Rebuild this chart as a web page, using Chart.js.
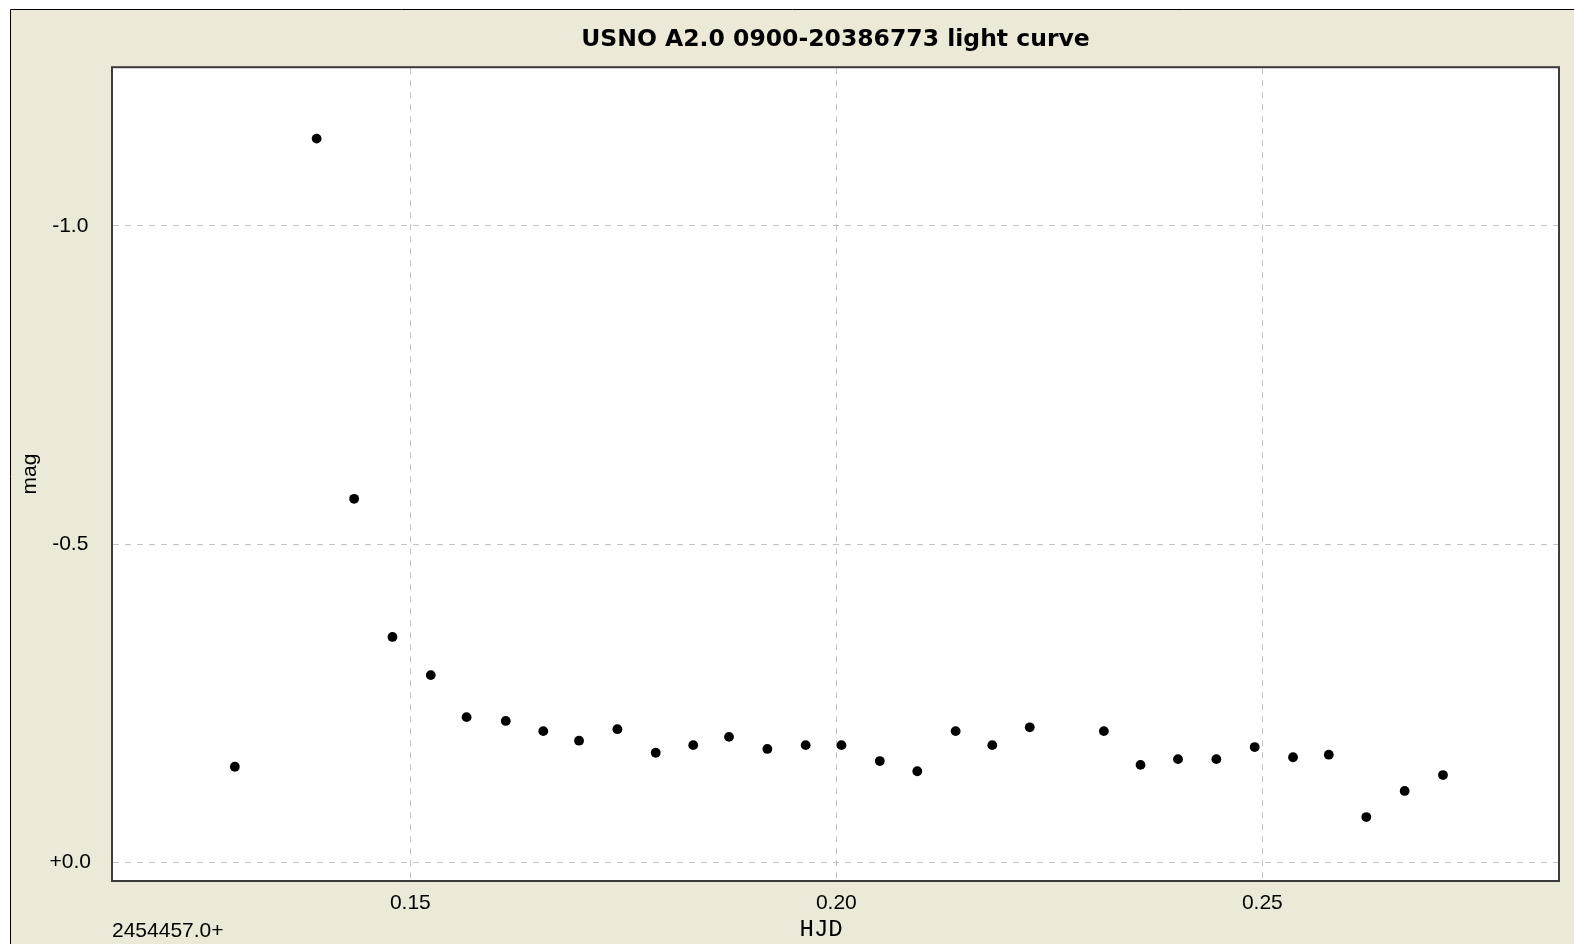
<!DOCTYPE html>
<html>
<head>
<meta charset="utf-8">
<title>USNO A2.0 0900-20386773 light curve</title>
<script src="https://cdn.jsdelivr.net/npm/chart.js"></script>
<style>
  html, body { margin: 0; padding: 0; background: #ffffff; overflow: hidden; }
  canvas { display: block; }
</style>
</head>
<body>
<canvas id="curva" width="1574" height="944"></canvas>
<script>
// HJD - 2454457.0 and magnitudes
var hjd = [0.1294, 0.1390, 0.1434, 0.1479, 0.1524, 0.1566, 0.1612, 0.1656, 0.1698, 0.1743,
           0.1788, 0.1832, 0.1874, 0.1919, 0.1964, 0.2006, 0.2051, 0.2095, 0.2140, 0.2183,
           0.2227, 0.2314, 0.2357, 0.2401, 0.2446, 0.2491, 0.2536, 0.2578, 0.2622, 0.2667,
           0.2712];
var mag = [-0.150, -1.137, -0.571, -0.354, -0.294, -0.228, -0.222, -0.206, -0.191, -0.209,
           -0.172, -0.184, -0.197, -0.178, -0.184, -0.184, -0.159, -0.143, -0.206, -0.184,
           -0.212, -0.206, -0.153, -0.162, -0.162, -0.181, -0.165, -0.169, -0.071, -0.112,
           -0.137];

var xTicks = [0.15, 0.20, 0.25];
var xTickLabels = ['0.15', '0.20', '0.25'];
var yTicks = [-1.0, -0.5, 0.0];
var yTickLabels = ['-1.0', '-0.5', '+0.0'];

var titulo = 'USNO A2.0 0900-20386773 light curve';
var baseJD = '2454457.0+';

var fonteTexto = 'Liberation Sans, Arial, sans-serif';

var pontos = hjd.map(function(x, i) {
    return { x: x, y: mag[i] };
});

// beige frame, white plot area, dark plot border, JD base label
var moldura = {
    id: 'moldura',
    beforeDraw: function(chart) {
        var ctx = chart.ctx;
        var a = chart.chartArea;
        ctx.save();
        ctx.fillStyle = '#ffffff';
        ctx.fillRect(0, 0, chart.width, chart.height);
        ctx.fillStyle = '#ece9d8';
        ctx.fillRect(10, 9, chart.width - 10, chart.height - 9);
        ctx.strokeStyle = '#000000';
        ctx.lineWidth = 1;
        ctx.beginPath();
        ctx.moveTo(10.5, chart.height);
        ctx.lineTo(10.5, 9.5);
        ctx.lineTo(chart.width, 9.5);
        ctx.stroke();
        ctx.fillStyle = '#ffffff';
        ctx.fillRect(a.left, a.top, a.right - a.left, a.bottom - a.top);
        ctx.restore();
    },
    beforeDatasetsDraw: function(chart) {
        var ctx = chart.ctx;
        var a = chart.chartArea;
        ctx.save();
        ctx.strokeStyle = '#3c3c3c';
        ctx.lineWidth = 2;
        ctx.strokeRect(a.left - 1, a.top - 1, a.right - a.left + 2, a.bottom - a.top + 2);
        ctx.fillStyle = '#000000';
        ctx.font = '21px ' + fonteTexto;
        ctx.textAlign = 'left';
        ctx.textBaseline = 'middle';
        ctx.fillText(baseJD, a.left - 1, 931);
        ctx.restore();
    }
};

var config = {
    type: 'scatter',
    data: {
        datasets: [{
            label: 'mag',
            data: pontos,
            backgroundColor: '#000000',
            borderColor: '#000000',
            borderWidth: 0,
            pointRadius: 4.9,
            pointHoverRadius: 4.9,
            showLine: false
        }]
    },
    options: {
        responsive: false,
        animation: false,
        devicePixelRatio: 1,
        layout: {
            padding: { left: 10, top: 9, right: 16, bottom: 0 }
        },
        plugins: {
            legend: { display: false },
            tooltip: { enabled: false },
            title: {
                display: true,
                text: titulo,
                fullSize: false,
                color: '#000000',
                font: { family: 'DejaVu Sans', size: 23.5, weight: 'bold', lineHeight: 1.2 },
                padding: { top: 17, bottom: 14 }
            }
        },
        scales: {
            x: {
                type: 'linear',
                position: 'bottom',
                min: 0.1151,
                max: 0.2847,
                afterFit: function(scale) { scale.height = 64; },
                afterBuildTicks: function(scale) {
                    scale.ticks = xTicks.map(function(v) { return { value: v }; });
                },
                ticks: {
                    padding: 11,
                    color: '#000000',
                    font: { family: fonteTexto, size: 21 },
                    maxRotation: 0,
                    callback: function(v) {
                        var i = xTicks.indexOf(v);
                        return i >= 0 ? xTickLabels[i] : '';
                    }
                },
                grid: { color: '#c4c4c4', lineWidth: 1, drawTicks: false },
                border: { display: false, dash: [6, 6] },
                title: {
                    display: true,
                    text: 'HJD  ',
                    color: '#000000',
                    font: { family: 'Liberation Mono, Courier New, monospace', size: 24, lineHeight: 1.2 },
                    padding: { top: 0, bottom: 0 }
                }
            },
            y: {
                type: 'linear',
                position: 'left',
                reverse: true,
                min: -1.2476,
                max: 0.0279,
                afterFit: function(scale) { scale.width = 103; },
                afterBuildTicks: function(scale) {
                    scale.ticks = yTicks.map(function(v) { return { value: v }; });
                },
                ticks: {
                    padding: 22,
                    crossAlign: 'center',
                    color: '#000000',
                    font: { family: fonteTexto, size: 21 },
                    callback: function(v) {
                        var i = yTicks.indexOf(v);
                        return i >= 0 ? yTickLabels[i] : '';
                    }
                },
                grid: { color: '#c4c4c4', lineWidth: 1, drawTicks: false },
                border: { display: false, dash: [6, 6] },
                title: {
                    display: true,
                    text: 'mag',
                    color: '#000000',
                    font: { family: fonteTexto, size: 21, lineHeight: 1.2 },
                    padding: { top: 8, bottom: 0 }
                }
            }
        }
    },
    plugins: [moldura]
};

new Chart(document.getElementById('curva').getContext('2d'), config);
</script>
</body>
</html>
